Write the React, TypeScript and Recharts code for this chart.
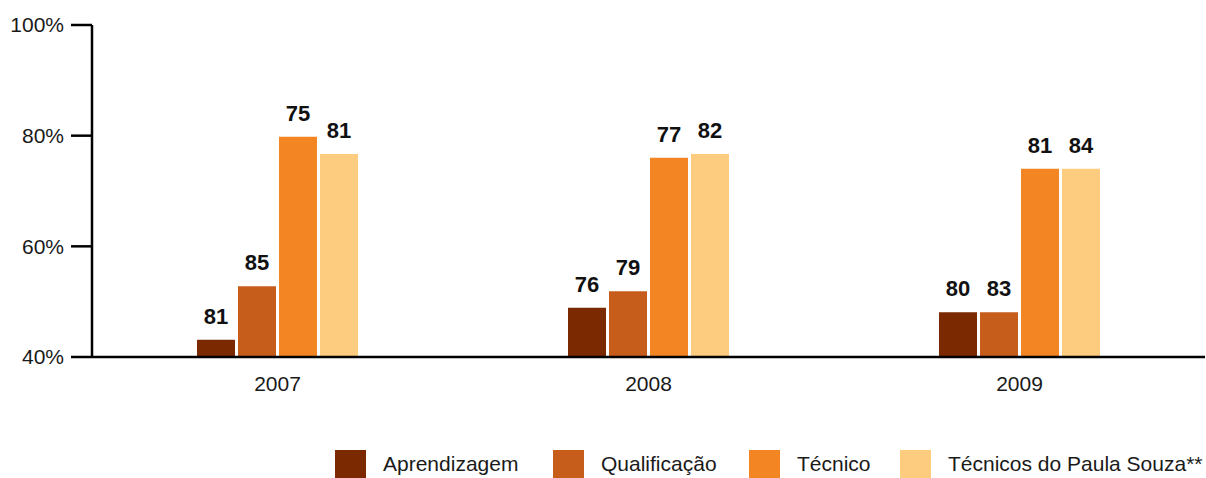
import { Bar, BarChart, LabelList, XAxis, YAxis } from "recharts";

const YEARS = ["2007", "2008", "2009"];
const APRENDIZAGEM = [43.1, 48.9, 48.1];
const QUALIFICACAO = [52.8, 51.9, 48.1];
const TECNICO = [79.8, 76.0, 74.0];
const PAULA_SOUZA = [76.7, 76.7, 74.0];

const APRENDIZAGEM_LABELS = ["81", "76", "80"];
const QUALIFICACAO_LABELS = ["85", "79", "83"];
const TECNICO_LABELS = ["75", "77", "81"];
const PAULA_SOUZA_LABELS = ["81", "82", "84"];

const Y_TICKS = [40, 60, 80, 100];

const SERIES = [
  { key: "aprendizagem", label: "labelA", name: "Aprendizagem", color: "#7a2900", left: 335 },
  { key: "qualificacao", label: "labelQ", name: "Qualificação", color: "#c75d1b", left: 553 },
  { key: "tecnico", label: "labelT", name: "Técnico", color: "#f38523", left: 749 },
  { key: "paulaSouza", label: "labelP", name: "Técnicos do Paula Souza**", color: "#fecc7e", left: 900 },
];

const data = YEARS.map((year, i) => ({
  year,
  aprendizagem: APRENDIZAGEM[i],
  qualificacao: QUALIFICACAO[i],
  tecnico: TECNICO[i],
  paulaSouza: PAULA_SOUZA[i],
  labelA: APRENDIZAGEM_LABELS[i],
  labelQ: QUALIFICACAO_LABELS[i],
  labelT: TECNICO_LABELS[i],
  labelP: PAULA_SOUZA_LABELS[i],
}));

const FONT = '"Liberation Sans", Arial, sans-serif';

export default function App() {
  return (
    <div style={{ position: "absolute", left: 0, top: 0, width: 1206, height: 478, background: "#fff", fontFamily: FONT, overflow: "hidden" }}>
      <BarChart
        width={1206}
        height={478}
        data={data}
        margin={{ top: 25, right: 1, bottom: 91, left: 0 }}
        barSize={38}
        barGap={3}
      >
        <XAxis
          dataKey="year"
          axisLine={{ stroke: "#000", strokeWidth: 2.5 }}
          tickLine={false}
          tickSize={0}
          tickMargin={19}
          height={30}
          tick={{ fill: "#1a1a1a", fontSize: 21, fontFamily: FONT }}
        />
        <YAxis
          domain={[40, 100]}
          ticks={Y_TICKS}
          allowDataOverflow
          width={92}
          tickFormatter={(v) => `${v}%`}
          axisLine={{ stroke: "#000", strokeWidth: 2.5 }}
          tickLine={{ stroke: "#000", strokeWidth: 2.5 }}
          tickSize={21}
          tickMargin={7}
          tick={{ fill: "#1a1a1a", fontSize: 21, fontFamily: FONT }}
        />
        {SERIES.map((s) => (
          <Bar key={s.key} dataKey={s.key} name={s.name} fill={s.color} isAnimationActive={false}>
            <LabelList
              dataKey={s.label}
              position="top"
              offset={16}
              fill="#111"
              fontSize={22}
              fontWeight="bold"
              fontFamily={FONT}
            />
          </Bar>
        ))}
      </BarChart>
      {SERIES.map((s) => (
        <div
          key={s.key}
          style={{ position: "absolute", left: s.left, top: 450, display: "flex", alignItems: "center", whiteSpace: "nowrap" }}
        >
          <div style={{ width: 31, height: 28, background: s.color }} />
          <span style={{ marginLeft: 17, fontSize: 21, color: "#1a1a1a", lineHeight: "28px" }}>{s.name}</span>
        </div>
      ))}
    </div>
  );
}
